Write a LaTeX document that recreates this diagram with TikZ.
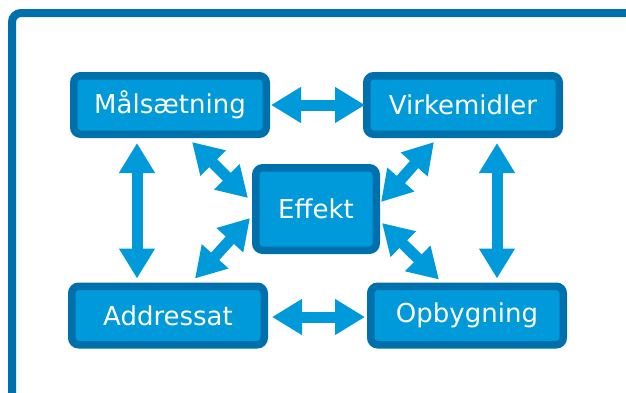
\documentclass[tikz,border=0pt]{standalone}
\usepackage{fontspec}
\setmainfont{DejaVu Sans}
\usetikzlibrary{arrows.meta}
\definecolor{boxfill}{RGB}{0,153,218}
\definecolor{boxedge}{RGB}{0,112,173}
\begin{document}
\begin{tikzpicture}[x=1pt,y=-1pt,
  box/.style={draw=boxedge, fill=boxfill, line width=7.5pt, rounded corners=7pt,
    minimum width=192.5pt, minimum height=58.5pt, inner sep=0pt, text=white,
    font=\fontsize{26pt}{30pt}\selectfont},
  dbl/.style={draw=boxfill, line width=11pt,
    {Triangle[width=34pt,length=30pt]}-{Triangle[width=34pt,length=30pt]}}]
\useasboundingbox (0,0) rectangle (626,392);
\begin{scope}
\clip (0,0) rectangle (626,392);
\draw[boxedge, line width=8pt, rounded corners=9pt] (12,420) -- (12,13) -- (660,13);
\end{scope}
\node[box] (m) at (170,105) {Målsætning};
\node[box] (v) at (463,105) {Virkemidler};
\node[box, minimum width=120.5pt, minimum height=82.5pt] (e) at (316,209) {Effekt};
\node[box] (a) at (168,315.5) {Addressat};
\node[box] (o) at (467,315.5) {Opbygning};
\draw[dbl] ([xshift=1pt]m.east) -- ([xshift=2pt]v.west);
\draw[dbl] ([xshift=4pt,yshift=-1.5pt]a.east) -- ([xshift=-2pt,yshift=-1.5pt]o.west);
\draw[dbl] ([xshift=-33pt,yshift=-5pt]m.south) -- ([xshift=-31pt,yshift=4pt]a.north);
\draw[dbl] ([xshift=34pt,yshift=-5pt]v.south) -- ([xshift=30pt,yshift=4pt]o.north);
\draw[dbl] ([xshift=22pt,yshift=-4pt]m.south) -- ([xshift=-4pt,yshift=11pt]e.west);
\draw[dbl] ([xshift=27pt,yshift=4pt]a.north) -- ([xshift=-2pt,yshift=-9pt]e.west);
\draw[dbl] ([xshift=-29pt,yshift=-4pt]v.south) -- ([xshift=1pt,yshift=7pt]e.east);
\draw[dbl] ([xshift=-28pt,yshift=3pt]o.north) -- ([xshift=2pt,yshift=-14pt]e.east);
\end{tikzpicture}
\end{document}
